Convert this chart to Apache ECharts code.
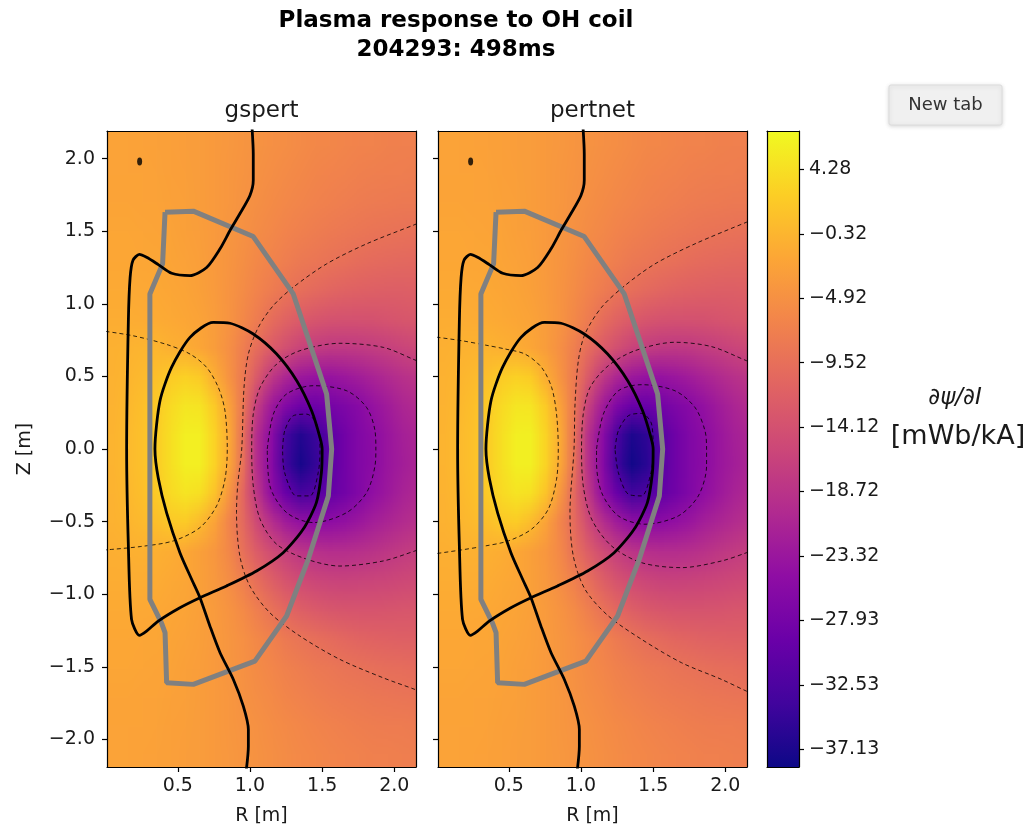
<!DOCTYPE html>
<html>
<head>
<meta charset="utf-8">
<title>Plasma response to OH coil</title>
<script src="https://cdn.jsdelivr.net/npm/echarts@6/dist/echarts.min.js"></script>
<style>
  html, body { margin: 0; padding: 0; background: #fff; }
  #mychart { width: 1035px; height: 835px; }
</style>
</head>
<body>
<div id="mychart"></div>
<script>
// 网格中心 (R, Z) 和数值 dpsi/dI [mWb/kA]
var rCenters = [0.05, 0.15, 0.25, 0.35, 0.45, 0.55, 0.65, 0.75, 0.85, 0.95, 1.05,
                1.15, 1.25, 1.35, 1.45, 1.55, 1.65, 1.75, 1.85, 1.95, 2.05, 2.15]
var zCenters = [2.1, 1.9, 1.7, 1.5, 1.3, 1.1, 0.9, 0.7, 0.5, 0.3, 0.1,
                -0.1, -0.3, -0.5, -0.7, -0.9, -1.1, -1.3, -1.5, -1.7, -1.9, -2.1]

var gspertField = [
  [-2.5, -2.5, -2.6, -2.7, -2.9, -3.1, -3.3, -3.6, -3.9, -4.3, -4.6, -5.0, -5.3, -5.7, -6.0, -6.2, -6.5, -6.7, -6.8, -7.0, -7.1, -7.2],
  [-2.4, -2.4, -2.5, -2.6, -2.8, -3.0, -3.3, -3.6, -4.0, -4.4, -4.8, -5.3, -5.7, -6.0, -6.4, -6.7, -6.9, -7.1, -7.3, -7.4, -7.5, -7.6],
  [-2.3, -2.3, -2.4, -2.5, -2.7, -2.9, -3.2, -3.6, -4.1, -4.6, -5.1, -5.6, -6.1, -6.5, -6.9, -7.2, -7.5, -7.7, -7.9, -8.0, -8.1, -8.2],
  [-2.1, -2.1, -2.2, -2.3, -2.5, -2.8, -3.1, -3.6, -4.2, -4.8, -5.5, -6.1, -6.7, -7.2, -7.6, -8.0, -8.3, -8.6, -8.8, -9.0, -9.1, -9.3],
  [-1.9, -1.9, -2.0, -2.1, -2.3, -2.6, -3.0, -3.6, -4.3, -5.1, -6.0, -6.8, -7.5, -8.1, -8.6, -9.0, -9.4, -9.8, -10.1, -10.3, -10.5, -10.6],
  [-1.6, -1.6, -1.7, -1.8, -2.0, -2.3, -2.8, -3.5, -4.4, -5.5, -6.7, -7.8, -8.8, -9.6, -10.3, -10.9, -11.3, -11.6, -11.8, -11.9, -11.9, -11.8],
  [-1.3, -1.3, -1.4, -1.5, -1.7, -2.0, -2.5, -3.3, -4.5, -6.0, -7.8, -9.8, -11.3, -12.5, -13.3, -13.8, -14.0, -14.0, -13.9, -13.6, -13.3, -13.0],
  [-0.8, -0.6, -0.4, -0.2, -0.9, -1.3, -2.0, -3.2, -5.0, -7.5, -10.0, -12.5, -14.5, -16.3, -17.3, -17.8, -17.9, -17.7, -17.3, -16.8, -16.2, -15.6],
  [-0.7, -0.3, 0.2, 0.9, 2.2, 2.8, 2.0, -1.2, -4.5, -8.2, -13.0, -18.0, -21.0, -23.0, -23.8, -23.8, -23.2, -22.3, -21.3, -20.3, -19.3, -18.5],
  [-0.6, 0.0, 0.8, 2.0, 3.8, 5.0, 4.8, 2.0, -2.5, -8.5, -17.5, -23.0, -26.5, -29.0, -29.0, -28.0, -27.0, -25.7, -24.0, -22.5, -21.0, -20.0],
  [-0.5, 0.2, 1.0, 2.3, 4.3, 6.0, 6.0, 3.0, -1.5, -9.5, -20.0, -25.5, -33.5, -36.5, -34.5, -31.0, -28.5, -26.5, -25.2, -23.5, -22.0, -21.0],
  [-0.5, 0.2, 1.0, 2.3, 4.3, 6.0, 6.0, 3.0, -1.8, -9.5, -20.0, -26.0, -34.0, -37.5, -35.0, -31.0, -28.5, -26.5, -25.3, -23.5, -22.2, -21.2],
  [-0.6, 0.0, 0.8, 2.0, 3.8, 4.8, 4.3, 1.2, -4.0, -11.0, -18.5, -25.0, -29.5, -33.0, -32.0, -30.0, -28.3, -26.5, -24.5, -23.0, -21.5, -20.5],
  [-0.7, -0.3, 0.2, 0.8, 1.8, 2.0, 0.2, -2.5, -6.5, -10.5, -15.5, -19.5, -22.5, -24.3, -25.0, -24.8, -24.2, -23.2, -22.0, -21.0, -20.0, -19.2],
  [-1.0, -0.9, -0.8, -0.9, -1.3, -1.9, -2.8, -4.0, -6.0, -9.5, -12.5, -15.0, -16.8, -18.3, -19.2, -19.6, -19.6, -19.3, -18.8, -18.2, -17.6, -17.0],
  [-1.3, -1.3, -1.3, -1.4, -1.7, -2.1, -2.8, -3.8, -5.3, -7.3, -9.8, -12.0, -13.8, -15.0, -15.8, -16.2, -16.3, -16.2, -16.0, -15.8, -15.5, -15.2],
  [-1.6, -1.6, -1.7, -1.8, -2.0, -2.3, -2.8, -3.5, -4.5, -5.8, -7.5, -9.2, -10.7, -11.9, -12.7, -13.2, -13.5, -13.6, -13.6, -13.5, -13.4, -13.2],
  [-1.9, -1.9, -2.0, -2.1, -2.3, -2.6, -3.0, -3.5, -4.2, -5.0, -6.0, -7.0, -8.1, -8.9, -9.6, -10.2, -10.7, -11.1, -11.4, -11.6, -11.7, -11.8],
  [-2.1, -2.1, -2.2, -2.3, -2.5, -2.8, -3.1, -3.6, -4.2, -4.9, -5.6, -6.3, -7.0, -7.6, -8.1, -8.5, -8.9, -9.2, -9.5, -9.7, -9.9, -10.1],
  [-2.3, -2.3, -2.4, -2.5, -2.7, -2.9, -3.2, -3.6, -4.1, -4.7, -5.3, -5.8, -6.4, -6.9, -7.3, -7.7, -8.0, -8.2, -8.4, -8.6, -8.7, -8.8],
  [-2.4, -2.4, -2.5, -2.6, -2.8, -3.0, -3.3, -3.6, -4.0, -4.4, -4.9, -5.4, -5.8, -6.2, -6.6, -6.9, -7.2, -7.4, -7.6, -7.7, -7.8, -7.9],
  [-2.5, -2.5, -2.6, -2.7, -2.9, -3.1, -3.3, -3.6, -3.9, -4.3, -4.7, -5.1, -5.5, -5.9, -6.2, -6.5, -6.7, -6.9, -7.1, -7.2, -7.3, -7.4]
]

var pertnetField = [
  [-2.5, -2.5, -2.6, -2.7, -2.9, -3.1, -3.3, -3.6, -3.9, -4.3, -4.6, -5.0, -5.3, -5.7, -6.0, -6.2, -6.5, -6.7, -6.8, -7.0, -7.1, -7.2],
  [-2.4, -2.4, -2.5, -2.6, -2.8, -3.0, -3.3, -3.6, -4.0, -4.4, -4.8, -5.3, -5.7, -6.0, -6.4, -6.7, -6.9, -7.1, -7.3, -7.4, -7.5, -7.6],
  [-2.3, -2.3, -2.4, -2.5, -2.7, -2.9, -3.2, -3.6, -4.1, -4.6, -5.1, -5.6, -6.1, -6.5, -6.9, -7.2, -7.5, -7.7, -7.9, -8.0, -8.1, -8.2],
  [-2.1, -2.1, -2.2, -2.3, -2.5, -2.8, -3.1, -3.6, -4.2, -4.8, -5.5, -6.1, -6.7, -7.2, -7.6, -8.0, -8.3, -8.6, -8.8, -9.0, -9.1, -9.3],
  [-1.9, -1.9, -2.0, -2.1, -2.3, -2.6, -3.0, -3.6, -4.3, -5.1, -6.0, -6.8, -7.5, -8.1, -8.6, -9.0, -9.4, -9.8, -10.1, -10.3, -10.5, -10.6],
  [-1.6, -1.6, -1.7, -1.8, -2.0, -2.3, -2.8, -3.5, -4.4, -5.5, -6.7, -7.8, -8.8, -9.6, -10.3, -10.9, -11.3, -11.6, -11.8, -11.9, -11.9, -11.8],
  [-1.3, -1.3, -1.4, -1.5, -1.7, -2.0, -2.5, -3.3, -4.5, -6.0, -7.8, -9.8, -11.3, -12.5, -13.3, -13.8, -14.0, -14.0, -13.9, -13.6, -13.3, -13.0],
  [-0.9, -0.7, -0.6, -0.5, -0.9, -1.3, -2.0, -3.2, -5.0, -7.3, -10.0, -12.5, -14.5, -16.3, -17.3, -17.8, -18.0, -17.8, -17.3, -16.8, -16.2, -15.6],
  [-0.7, -0.3, 0.2, 0.9, 2.2, 2.8, 2.1, -1.1, -4.3, -8.0, -12.8, -17.8, -21.0, -23.0, -24.0, -24.0, -23.3, -22.4, -21.3, -20.3, -19.3, -18.5],
  [-0.6, 0.0, 0.8, 2.0, 3.8, 5.0, 4.9, 2.1, -2.4, -8.2, -16.8, -22.5, -26.8, -29.5, -29.5, -28.3, -27.0, -25.8, -24.2, -22.6, -21.1, -20.0],
  [-0.5, 0.2, 1.0, 2.3, 4.3, 6.0, 6.1, 3.1, -1.4, -9.0, -19.5, -25.5, -33.0, -37.0, -35.5, -31.5, -28.7, -26.6, -25.2, -23.5, -22.0, -21.0],
  [-0.5, 0.2, 1.0, 2.3, 4.3, 6.0, 6.1, 3.1, -1.7, -9.2, -19.5, -26.0, -34.0, -38.0, -36.0, -31.5, -28.7, -26.6, -25.3, -23.5, -22.2, -21.2],
  [-0.6, 0.0, 0.8, 2.0, 3.8, 4.8, 4.4, 1.3, -3.8, -10.5, -18.0, -24.8, -29.5, -33.5, -32.5, -30.2, -28.4, -26.6, -24.6, -23.0, -21.5, -20.5],
  [-0.7, -0.3, 0.2, 0.8, 1.8, 2.1, 0.3, -2.4, -6.3, -10.2, -15.2, -19.5, -22.6, -24.6, -25.3, -25.0, -24.3, -23.3, -22.0, -21.0, -20.0, -19.2],
  [-1.0, -0.9, -0.8, -0.9, -1.3, -1.9, -2.8, -4.0, -5.9, -9.2, -12.3, -15.0, -17.0, -18.5, -19.4, -19.8, -19.8, -19.4, -18.9, -18.2, -17.6, -17.0],
  [-1.3, -1.3, -1.3, -1.4, -1.7, -2.1, -2.8, -3.8, -5.2, -7.1, -9.6, -11.9, -13.8, -15.1, -15.9, -16.3, -16.4, -16.3, -16.1, -15.8, -15.5, -15.2],
  [-1.6, -1.6, -1.7, -1.8, -2.0, -2.3, -2.8, -3.5, -4.4, -5.7, -7.3, -9.1, -10.7, -11.9, -12.8, -13.3, -13.6, -13.7, -13.7, -13.6, -13.4, -13.2],
  [-1.9, -1.9, -2.0, -2.1, -2.3, -2.6, -3.0, -3.5, -4.2, -5.0, -5.9, -6.9, -8.0, -8.9, -9.7, -10.3, -10.8, -11.2, -11.5, -11.6, -11.7, -11.8],
  [-2.1, -2.1, -2.2, -2.3, -2.5, -2.8, -3.1, -3.6, -4.2, -4.9, -5.6, -6.3, -7.0, -7.6, -8.1, -8.5, -8.9, -9.2, -9.5, -9.7, -9.9, -10.1],
  [-2.3, -2.3, -2.4, -2.5, -2.7, -2.9, -3.2, -3.6, -4.1, -4.7, -5.3, -5.8, -6.4, -6.9, -7.3, -7.7, -8.0, -8.2, -8.4, -8.6, -8.7, -8.8],
  [-2.4, -2.4, -2.5, -2.6, -2.8, -3.0, -3.3, -3.6, -4.0, -4.4, -4.9, -5.4, -5.8, -6.2, -6.6, -6.9, -7.2, -7.4, -7.6, -7.7, -7.8, -7.9],
  [-2.5, -2.5, -2.6, -2.7, -2.9, -3.1, -3.3, -3.6, -3.9, -4.3, -4.7, -5.1, -5.5, -5.9, -6.2, -6.5, -6.7, -6.9, -7.1, -7.2, -7.3, -7.4]
]

// 分离面 (黑线) 与真空室壁 (灰线), 两图相同
var separatrix = [
  [1.012, 2.25], [1.023, 2.03], [1.023, 1.85], [1.0, 1.746], [0.93, 1.62], [0.862, 1.505],
  [0.793, 1.379], [0.70, 1.25], [0.585, 1.194], [0.458, 1.21], [0.365, 1.27], [0.284, 1.32],
  [0.234, 1.34], [0.19, 1.30], [0.17, 1.18], [0.158, 0.884], [0.146, 0.0], [0.158, -0.667],
  [0.18, -1.173], [0.234, -1.283], [0.284, -1.254], [0.365, -1.185], [0.515, -1.093],
  [0.654, -1.024], [0.838, -0.943], [1.046, -0.84], [1.23, -0.714], [1.368, -0.553],
  [1.46, -0.369], [1.495, -0.162], [1.50, 0.0], [1.485, 0.079], [1.427, 0.263], [1.324, 0.47],
  [1.185, 0.654], [1.023, 0.792], [0.862, 0.866], [0.746, 0.872], [0.585, 0.769], [0.457, 0.562],
  [0.377, 0.332], [0.342, 0.0], [0.365, -0.2], [0.423, -0.44], [0.515, -0.714], [0.596, -0.897],
  [0.654, -1.024], [0.723, -1.22], [0.793, -1.403], [0.885, -1.587], [0.954, -1.771],
  [0.989, -1.932], [0.989, -2.047], [0.97, -2.25]
]
var wall = [
  [0.412, 1.631], [0.608, 1.638], [1.023, 1.463], [1.30, 1.068], [1.439, 0.654], [1.531, 0.379],
  [1.566, 0.0], [1.543, -0.323], [1.404, -0.759], [1.254, -1.15], [1.034, -1.461], [0.608, -1.621],
  [0.423, -1.61], [0.412, -1.265], [0.387, -1.197], [0.307, -1.035], [0.307, 1.068], [0.395, 1.275],
  [0.412, 1.631]
]
var coilDot = [[0.236, 1.98]]

// 等值线 (虚线)
var gspertContours = [
  [[0.0, 0.81], [0.19, 0.78], [0.423, 0.72], [0.585, 0.654], [0.70, 0.562], [0.781, 0.424], [0.827, 0.263],
   [0.843, 0.0], [0.827, -0.208], [0.769, -0.392], [0.654, -0.541], [0.469, -0.633], [0.24, -0.672], [0.0, -0.695]],
  [[2.2, 1.57], [2.143, 1.546], [1.808, 1.413], [1.531, 1.275], [1.30, 1.114], [1.162, 0.988], [1.058, 0.838],
   [0.989, 0.654], [0.959, 0.424], [0.943, 0.0], [0.915, -0.25], [0.907, -0.438], [0.93, -0.737], [0.999, -0.943],
   [1.138, -1.128], [1.346, -1.288], [1.623, -1.449], [1.923, -1.576], [2.143, -1.656], [2.2, -1.68]],
  [[2.2, 0.59], [2.143, 0.613], [1.923, 0.70], [1.623, 0.728], [1.346, 0.677], [1.185, 0.585], [1.07, 0.424],
   [1.023, 0.24], [1.012, 0.0], [1.023, -0.254], [1.07, -0.483], [1.185, -0.656], [1.393, -0.759],
   [1.623, -0.806], [1.923, -0.771], [2.143, -0.702], [2.2, -0.68]],
  [[1.12, 0.0], [1.162, 0.24], [1.254, 0.379], [1.439, 0.436], [1.67, 0.401], [1.808, 0.286], [1.866, 0.126],
   [1.872, 0.0], [1.866, -0.116], [1.808, -0.30], [1.67, -0.438], [1.439, -0.507], [1.254, -0.438],
   [1.138, -0.254], [1.12, 0.0]],
  [[1.226, 0.0], [1.241, 0.126], [1.30, 0.229], [1.393, 0.24], [1.462, 0.172], [1.485, 0.0], [1.473, -0.162],
   [1.415, -0.323], [1.322, -0.323], [1.24, -0.162], [1.226, 0.0]]
]
var pertnetContours = [
  [[0.0, 0.77], [0.173, 0.746], [0.358, 0.712], [0.474, 0.689], [0.612, 0.654], [0.727, 0.562], [0.797, 0.424],
   [0.831, 0.24], [0.843, 0.0], [0.831, -0.208], [0.774, -0.414], [0.658, -0.552], [0.497, -0.633],
   [0.336, -0.668], [0.173, -0.695], [0.0, -0.72]],
  [[2.2, 1.58], [2.147, 1.562], [1.79, 1.413], [1.513, 1.275], [1.305, 1.126], [1.143, 0.976], [1.028, 0.792],
   [0.982, 0.608], [0.959, 0.31], [0.952, 0.0], [0.924, -0.438], [0.947, -0.737], [1.028, -0.966], [1.19, -1.15],
   [1.42, -1.311], [1.697, -1.472], [1.974, -1.587], [2.147, -1.668], [2.2, -1.69]],
  [[2.2, 0.59], [2.147, 0.608], [1.905, 0.705], [1.651, 0.735], [1.374, 0.677], [1.19, 0.574], [1.063, 0.424],
   [1.016, 0.24], [1.004, 0.0], [1.016, -0.254], [1.074, -0.483], [1.212, -0.668], [1.42, -0.783],
   [1.697, -0.817], [1.974, -0.771], [2.147, -0.714], [2.2, -0.69]],
  [[1.108, 0.0], [1.155, 0.24], [1.259, 0.401], [1.42, 0.443], [1.651, 0.401], [1.79, 0.286], [1.859, 0.126],
   [1.87, 0.0], [1.87, -0.116], [1.813, -0.323], [1.674, -0.461], [1.443, -0.518], [1.259, -0.461],
   [1.143, -0.30], [1.108, -0.093], [1.108, 0.0]],
  [[1.236, 0.0], [1.259, 0.126], [1.328, 0.229], [1.42, 0.245], [1.489, 0.172], [1.50, 0.0], [1.485, -0.162],
   [1.42, -0.323], [1.328, -0.311], [1.259, -0.162], [1.236, 0.0]]
]

// 坐标轴刻度和色标
var rTicks = [0.5, 1.0, 1.5, 2.0]
var zTicks = [-2.0, -1.5, -1.0, -0.5, 0.0, 0.5, 1.0, 1.5, 2.0]
var cbarTicks = [4.28, -0.32, -4.92, -9.52, -14.12, -18.72, -23.32, -27.93, -32.53, -37.13]
var cbarRange = [-38.4, 7.03]
var rRange = [0.01, 2.15]
var zRange = [-2.19, 2.19]

var plasma = ['#0d0887', '#41049d', '#6a00a8', '#8f0da4', '#b12a90', '#cc4778',
              '#e16462', '#f2844b', '#fca636', '#fcce25', '#f0f921']

var FONT = 'DejaVu Sans'
var TXT = '#1a1a1a'
var cellR = 0.1
var cellZ = 0.2

function fmt(d) {
  return function (v) {
    var s = Math.abs(v).toFixed(d)
    return v < -1e-9 ? '\u2212' + s : s
  }
}

function cells(field) {
  var out = []
  field.forEach(function (row, i) {
    row.forEach(function (v, j) {
      out.push([rCenters[j], zCenters[i], v])
    })
  })
  return out
}

// 每个格子一个像素, 放大时用双线性平滑 (相当于 imshow 的 bilinear)
function fieldImage(field) {
  var cv = document.createElement('canvas')
  cv.width = rCenters.length
  cv.height = zCenters.length
  var ctx = cv.getContext('2d')
  field.forEach(function (row, i) {
    row.forEach(function (v, j) {
      var t = (v - cbarRange[0]) / (cbarRange[1] - cbarRange[0])
      ctx.fillStyle = echarts.color.lerp(Math.max(0, Math.min(1, t)), plasma)
      ctx.fillRect(j, i, 1, 1)
    })
  })
  return cv
}

function renderField(img) {
  return function (params, api) {
    if (params.dataIndex !== 0) return
    var a = api.coord([rCenters[0] - cellR / 2, zCenters[0] + cellZ / 2])
    var b = api.coord([rCenters[rCenters.length - 1] + cellR / 2, zCenters[zCenters.length - 1] - cellZ / 2])
    var cs = params.coordSys
    return {
      type: 'image',
      style: { image: img, x: a[0], y: a[1], width: b[0] - a[0], height: b[1] - a[1] },
      clipPath: { type: 'rect', shape: { x: cs.x, y: cs.y, width: cs.width, height: cs.height } }
    }
  }
}

function renderCbar(params, api) {
  var a = api.coord([0, api.value(1)])
  var b = api.coord([1, api.value(0)])
  var stops = plasma.map(function (c, i) { return { offset: i / (plasma.length - 1), color: c } })
  return {
    type: 'rect',
    shape: { x: a[0], y: a[1], width: b[0] - a[0], height: b[1] - a[1] },
    style: { fill: new echarts.graphic.LinearGradient(0, 1, 0, 0, stops) }
  }
}

function lineSeries(idx, data, style) {
  return {
    type: 'line', xAxisIndex: idx, yAxisIndex: idx, data: data,
    showSymbol: false, symbol: 'none', smooth: style.smooth || 0, clip: true,
    lineStyle: { color: style.color, width: style.width, type: style.type || 'solid' },
    z: style.z, silent: true
  }
}

var grids = [
  { left: 107, top: 131, width: 309, height: 636 },
  { left: 438, top: 131, width: 309, height: 636 },
  { left: 767, top: 131, width: 32, height: 636 }
]

var frameLine = { show: true, onZero: false, lineStyle: { color: '#000', width: 1.2 } }
var xAxes = [], yAxes = []
;[0, 1].forEach(function (g) {
  xAxes.push({
    type: 'value', gridIndex: g, min: rRange[0], max: rRange[1], position: 'bottom', z: 10,
    name: 'R [m]', nameLocation: 'middle', nameGap: 40,
    nameTextStyle: { fontFamily: FONT, fontSize: 19, color: TXT },
    axisLine: frameLine,
    axisTick: { show: true, length: 5, customValues: rTicks, lineStyle: { color: '#000', width: 1.2 } },
    axisLabel: { customValues: rTicks, formatter: fmt(1), fontFamily: FONT, fontSize: 19, color: TXT, margin: 10 },
    splitLine: { show: false }
  })
  yAxes.push({
    type: 'value', gridIndex: g, min: zRange[0], max: zRange[1], position: 'left', z: 10,
    name: g === 0 ? 'Z [m]' : '', nameLocation: 'middle', nameGap: 72, nameRotate: 90,
    nameTextStyle: { fontFamily: FONT, fontSize: 19, color: TXT },
    axisLine: frameLine,
    axisTick: { show: true, length: 5, customValues: zTicks, lineStyle: { color: '#000', width: 1.2 } },
    axisLabel: { show: g === 0, customValues: zTicks, formatter: fmt(1), fontFamily: FONT, fontSize: 19, color: TXT, margin: 12 },
    splitLine: { show: false }
  })
})
// 色标坐标轴
xAxes.push({ type: 'value', gridIndex: 2, min: 0, max: 1, position: 'bottom', z: 10, axisLine: frameLine,
  axisTick: { show: false }, axisLabel: { show: false }, splitLine: { show: false } })
yAxes.push({
  type: 'value', gridIndex: 2, min: cbarRange[0], max: cbarRange[1], position: 'right', z: 10,
  axisLine: frameLine,
  axisTick: { show: true, length: 5, customValues: cbarTicks, lineStyle: { color: '#000', width: 1.2 } },
  axisLabel: { customValues: cbarTicks, formatter: fmt(2), fontFamily: FONT, fontSize: 19, color: TXT, margin: 10 },
  splitLine: { show: false }
})
// 上边和右边的框线
;[0, 1, 2].forEach(function (g) {
  xAxes.push({ type: 'value', gridIndex: g, position: 'top', z: 10, min: g < 2 ? rRange[0] : 0, max: g < 2 ? rRange[1] : 1,
    axisLine: frameLine, axisTick: { show: false }, axisLabel: { show: false }, splitLine: { show: false } })
  yAxes.push({ type: 'value', gridIndex: g, position: g < 2 ? 'right' : 'left', z: 10,
    min: g < 2 ? zRange[0] : cbarRange[0], max: g < 2 ? zRange[1] : cbarRange[1],
    axisLine: frameLine, axisTick: { show: false }, axisLabel: { show: false }, splitLine: { show: false } })
})

var series = [
  { type: 'custom', name: 'gspert', xAxisIndex: 0, yAxisIndex: 0, data: cells(gspertField),
    encode: { x: 0, y: 1 }, renderItem: renderField(fieldImage(gspertField)), z: 1, silent: true },
  { type: 'custom', name: 'pertnet', xAxisIndex: 1, yAxisIndex: 1, data: cells(pertnetField),
    encode: { x: 0, y: 1 }, renderItem: renderField(fieldImage(pertnetField)), z: 1, silent: true },
  { type: 'custom', name: 'colorbar', xAxisIndex: 2, yAxisIndex: 2, data: [[cbarRange[0], cbarRange[1]]],
    encode: { y: [0, 1] }, renderItem: renderCbar, z: 1, silent: true }
]
;[gspertContours, pertnetContours].forEach(function (cset, g) {
  cset.forEach(function (c) {
    series.push(lineSeries(g, c, { color: 'rgba(0,0,0,0.8)', width: 1, type: [4, 3], smooth: 0.3, z: 3 }))
  })
  series.push(lineSeries(g, wall, { color: '#808080', width: 5, z: 4 }))
  series.push(lineSeries(g, separatrix, { color: '#000', width: 2.8, smooth: 0.25, z: 5 }))
  series.push({ type: 'scatter', xAxisIndex: g, yAxisIndex: g, data: coilDot, symbol: 'circle',
    symbolSize: [5, 8], itemStyle: { color: '#000' }, z: 6, silent: true })
})

var myChart = echarts.init(document.getElementById('mychart'), null, { renderer: 'canvas' })

var option = {
  backgroundColor: '#ffffff',
  animation: false,
  grid: grids,
  xAxis: xAxes,
  yAxis: yAxes,
  graphic: [
    { type: 'text', x: 456, y: 21, style: { text: 'Plasma response to OH coil', font: 'bold 23px "DejaVu Sans"', fill: '#000', textAlign: 'center', textVerticalAlign: 'middle' } },
    { type: 'text', x: 456, y: 50, style: { text: '204293: 498ms', font: 'bold 23px "DejaVu Sans"', fill: '#000', textAlign: 'center', textVerticalAlign: 'middle' } },
    { type: 'text', x: 261.5, y: 111, style: { text: 'gspert', font: '23px "DejaVu Sans"', fill: TXT, textAlign: 'center', textVerticalAlign: 'middle' } },
    { type: 'text', x: 592.5, y: 111, style: { text: 'pertnet', font: '23px "DejaVu Sans"', fill: TXT, textAlign: 'center', textVerticalAlign: 'middle' } },
    { type: 'text', x: 955, y: 398, style: { text: '\u2202\u03c8/\u2202I', font: 'italic 23px "DejaVu Sans"', fill: TXT, textAlign: 'center', textVerticalAlign: 'middle' } },
    { type: 'text', x: 958, y: 437, style: { text: '[mWb/kA]', font: '27px "DejaVu Sans"', fill: TXT, textAlign: 'center', textVerticalAlign: 'middle' } },
    { type: 'rect', shape: { x: 889, y: 85, width: 113, height: 40, r: 2 },
      style: { fill: '#f0f0f0', stroke: '#dcdcdc', lineWidth: 1, shadowBlur: 4, shadowColor: 'rgba(0,0,0,0.15)', shadowOffsetY: 1 } },
    { type: 'text', x: 945.5, y: 105, z: 100, style: { text: 'New tab', font: '18px "DejaVu Sans"', fill: '#333', textAlign: 'center', textVerticalAlign: 'middle' } }
  ],
  series: series
}

myChart.setOption(option)
</script>
</body>
</html>
